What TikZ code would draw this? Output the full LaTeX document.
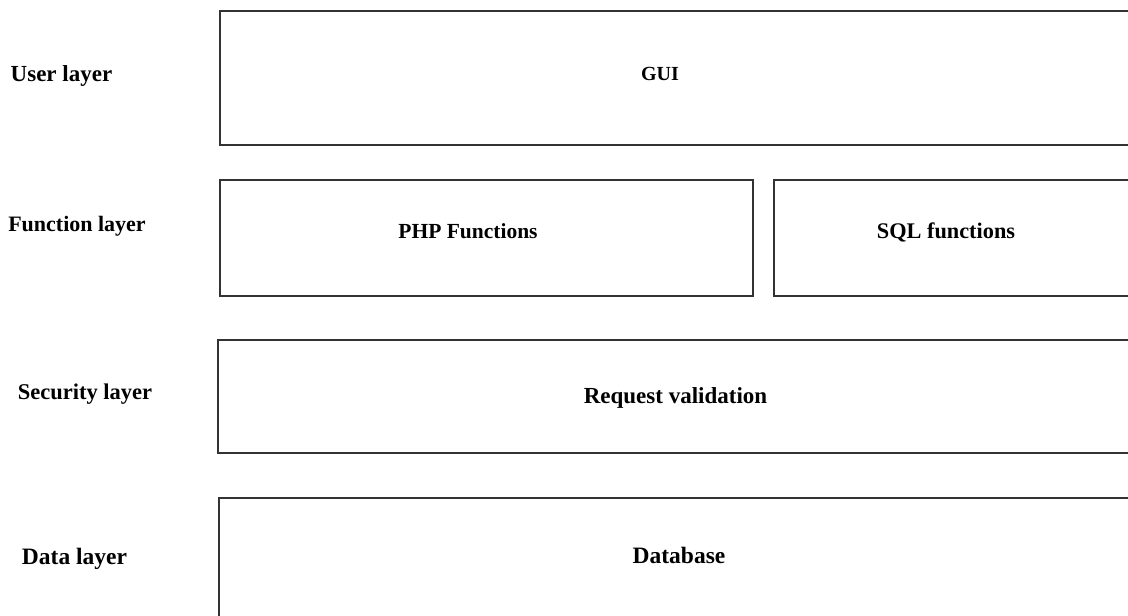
\documentclass[tikz,border=0pt]{standalone}
\usepackage{fontspec}
\setmainfont{Liberation Serif}
\begin{document}
\begin{tikzpicture}[x=1pt,y=-1pt,
  layerbox/.style={draw=black!80,line width=1.6pt,fill=none},
  lbl/.style={font=\fontsize{#1}{#1}\selectfont\bfseries,inner sep=0pt,anchor=base}]
\useasboundingbox (0,0) rectangle (1128,616);
\clip (0,0) rectangle (1128,616);
% boxes
\draw[layerbox] (1140,11) -- (220,11) -- (220,145) -- (1140,145);
\draw[layerbox] (220,180) rectangle (753,296);
\draw[layerbox] (1140,180) -- (774,180) -- (774,296) -- (1140,296);
\draw[layerbox] (1140,340) -- (218,340) -- (218,453) -- (1140,453);
\draw[layerbox] (1140,498) -- (219,498) -- (219,630);
% layer labels
\node[lbl=23] (ul) at (61.5,81) {User layer};
\node[lbl=22] (fl) at (77,231) {Function layer};
\node[lbl=22.5] (sl) at (85,399) {Security layer};
\node[lbl=23.5] (dl) at (74.5,564) {Data layer};
% box texts
\node[lbl=20] (gui) at (660,80) {GUI};
\node[lbl=21.5] (php) at (468,238) {PHP Functions};
\node[lbl=22.3] (sql) at (946,238) {SQL functions};
\node[lbl=23] (req) at (675.5,403) {Request validation};
\node[lbl=23.5] (db) at (679,563) {Database};
\end{tikzpicture}
\end{document}
